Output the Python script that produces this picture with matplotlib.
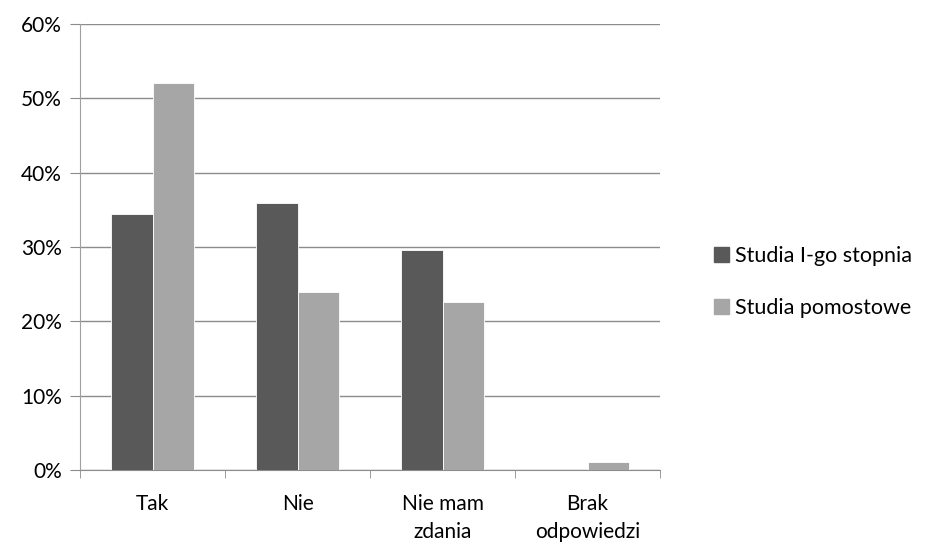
import numpy as np
import matplotlib.pyplot as plt
from matplotlib.patches import Patch

plt.rcParams['font.family'] = ['Lato', 'DejaVu Sans']

categories = ["Tak", "Nie", "Nie mam\nzdania", "Brak\nodpowiedzi"]
series_names = ["Studia I-go stopnia", "Studia pomostowe"]
studia_1 = [34.4, 35.9, 29.6, 0.0]
studia_pom = [52.0, 24.0, 22.6, 1.1]
yticks = [0, 10, 20, 30, 40, 50, 60]

dark = "#595959"
light = "#a6a6a6"

fig = plt.figure(figsize=(9.28, 5.49), dpi=100)
ax = fig.add_axes([80/928, 1 - 470/549, 580/928, 446/549])

x = np.arange(len(categories))
w = 0.283
ax.bar(x - w/2, studia_1, w, color=dark, edgecolor="white", linewidth=0.6, zorder=3)
ax.bar(x + w/2, studia_pom, w, color=light, edgecolor="white", linewidth=0.6, zorder=3)

ax.set_xlim(-0.5, len(categories) - 0.5)
ax.set_ylim(0, 60)
ax.set_yticks(yticks)
ax.set_yticklabels([f"{v}%" for v in yticks], fontsize=15)
ax.yaxis.grid(True, color="#8c8c8c", linewidth=1.0, zorder=0)

ax.set_xticks(x)
ax.set_xticklabels(categories, fontsize=15, linespacing=1.55)
ax.set_xticks(np.arange(-0.5, len(categories)), minor=True)
ax.tick_params(axis="x", which="major", length=0, pad=17)
ax.tick_params(axis="x", which="minor", length=6, color="#8c8c8c", direction="out")
ax.tick_params(axis="y", length=7, color="#8c8c8c", direction="out", pad=6)

for s in ["top", "right"]:
    ax.spines[s].set_visible(False)
ax.spines["left"].set_color("#a0a0a0")
ax.spines["bottom"].set_color("#8c8c8c")

handles = [Patch(color=dark), Patch(color=light)]
fig.legend(handles, series_names, loc="center left", bbox_to_anchor=(695/928, 1 - 282/549),
           frameon=False, fontsize=15.5, handlelength=0.7, handleheight=0.7,
           handletextpad=0.25, labelspacing=1.45)

fig.savefig("out.png", dpi=100)
